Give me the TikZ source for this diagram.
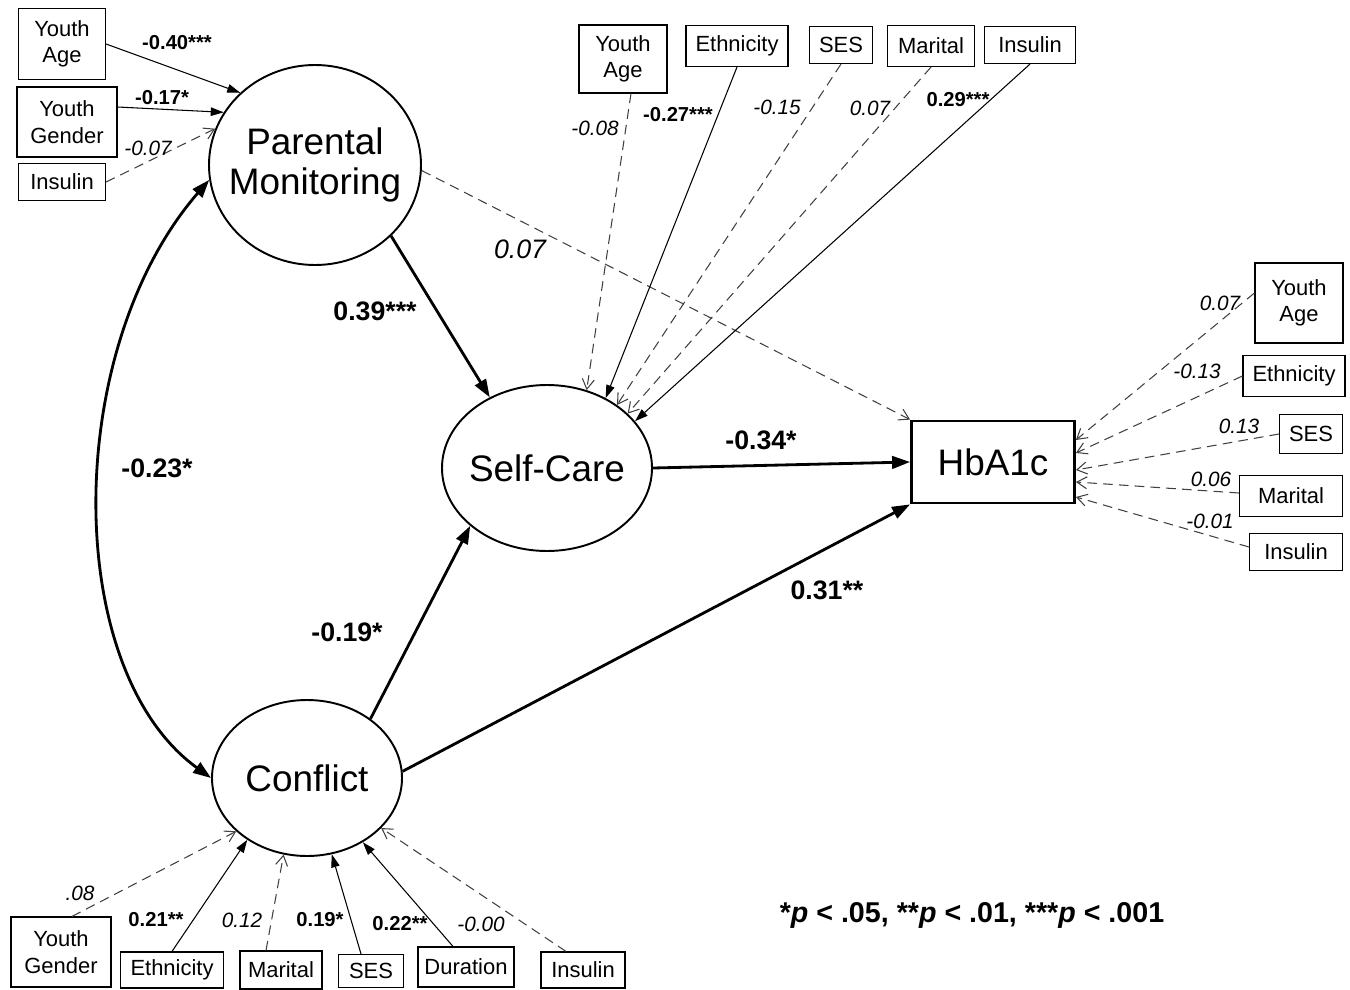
\documentclass[tikz,border=0pt]{standalone}
\usepackage{fontspec}
\setmainfont{Liberation Sans}
\usetikzlibrary{positioning,arrows.meta,shapes.geometric}

\begin{document}
\begin{tikzpicture}[x=0.02cm,y=-0.02cm,
    sz/.style 2 args={minimum width=#1*0.02cm,minimum height=#2*0.02cm},
    lat/.style={draw,ellipse,line width=1.1pt,inner xsep=-8pt,inner ysep=0pt,
      align=center,font=\fontsize{21}{23}\selectfont},
    obs/.style={draw,line width=1.6pt,inner sep=0,font=\fontsize{21}{23}\selectfont},
    cov/.style={draw,line width=0.65pt,inner sep=0,align=center,
      font=\fontsize{12.5}{15}\selectfont},
    pth/.style={line width=1.6pt,-{Triangle[length=0.36cm,width=0.25cm]}},
    sig/.style={line width=0.6pt,-{Triangle[length=0.26cm,width=0.17cm]}},
    ns/.style={line width=0.6pt,black!75,dash pattern=on 5.5pt off 3.5pt,
      -{Straight Barb[length=0.2cm,width=0.24cm]}},
    cb/.style={font=\bfseries\fontsize{11.5}{12}\selectfont},
    ci/.style={font=\itshape\fontsize{11.8}{12}\selectfont},
    cbig/.style={font=\bfseries\fontsize{15.2}{16}\selectfont}]
    \useasboundingbox (0,0) rectangle (1350,990);

    % latent variables and outcome
    \node[lat,sz={212}{200}] (pm) at (315,165) {Parental\\Monitoring};
    \node[lat,sz={210}{166}] (sc) at (547,468) {Self-Care};
    \node[lat,sz={190}{156}] (cf) at (307,778) {Conflict};
    \node[obs,sz={163}{82}] (hb) at (993,462) {HbA1c};

    % covariates of parental monitoring
    \node[cov,sz={87}{71}] (pya) at (62,44) {Youth\\Age};
    \node[cov,sz={100}{70}] (pyg) at (67,122) {Youth\\Gender};
    \node[cov,sz={87}{37}] (pin) at (62,182) {Insulin};

    % covariates of self-care
    \node[cov,sz={88}{68}] (sya) at (623,59) {Youth\\Age};
    \node[cov,sz={102}{41}] (set) at (737,46) {Ethnicity};
    \node[cov,sz={63}{37}] (sses) at (841,45) {SES};
    \node[cov,sz={87}{41}] (smar) at (931,46) {Marital};
    \node[cov,sz={91}{37}] (sin) at (1030,45) {Insulin};

    % covariates of HbA1c
    \node[cov,sz={88}{80}] (hya) at (1299,303) {Youth\\Age};
    \node[cov,sz={102}{41}] (het) at (1294,376) {Ethnicity};
    \node[cov,sz={63}{39}] (hses) at (1311,434) {SES};
    \node[cov,sz={103}{41}] (hmar) at (1291,496) {Marital};
    \node[cov,sz={93}{37}] (hin) at (1296,552) {Insulin};

    % covariates of conflict
    \node[cov,sz={100}{70}] (cyg) at (61,952) {Youth\\Gender};
    \node[cov,sz={103}{36}] (cet) at (172,970) {Ethnicity};
    \node[cov,sz={82}{38}] (cmar) at (281,970) {Marital};
    \node[cov,sz={65}{33}] (cses) at (371,971) {SES};
    \node[cov,sz={96}{40}] (cdur) at (466,967) {Duration};
    \node[cov,sz={84}{36}] (cin) at (583,970) {Insulin};

    % structural paths
    \draw[pth,{Triangle[length=0.36cm,width=0.25cm]}-{Triangle[length=0.36cm,width=0.25cm]}]
      (pm.188) .. controls (62,350) and (62,670) .. (cf.west);
    \draw[pth] (pm.-43) -- (sc.129);
    \draw[ns] (pm.-3) -- (hb.north west);
    \draw[pth] (sc.east) -- (hb.west);
    \draw[pth] (cf.43) -- (sc.217);
    \draw[pth] (cf.4) -- (hb.south west);

    \draw[sig] (pya.east) -- (pm.136);
    \draw[sig] ([yshift=0.3cm]pyg.east) -- (pm.150);
    \draw[ns] (pin.east) -- (pm.160);

    \draw[ns] ([xshift=0.16cm]sya.south) -- (sc.63);
    \draw[sig] (set.south) -- (sc.50);
    \draw[ns] (sses.south) -- (sc.42);
    \draw[ns] (smar.south) -- (sc.34);
    \draw[sig] (sin.south) -- (sc.28);

    \draw[ns] ([yshift=0.2cm]hya.west) -- ([yshift=0.44cm]hb.east);
    \draw[ns] (het.west) -- ([yshift=0.18cm]hb.east);
    \draw[ns] (hses.west) -- ([yshift=-0.16cm]hb.east);
    \draw[ns] ([yshift=0.06cm]hmar.west) -- ([yshift=-0.4cm]hb.east);
    \draw[ns] ([yshift=0.1cm]hin.west) -- ([yshift=-0.7cm]hb.east);

    \draw[ns] ([xshift=0.22cm]cyg.north) -- (cf.217);
    \draw[sig] (cet.north) -- (cf.226);
    \draw[ns] ([xshift=-0.3cm]cmar.north) -- (cf.253);
    \draw[sig] ([xshift=-0.2cm]cses.north) -- (cf.288);
    \draw[sig] ([xshift=-0.26cm]cdur.north) -- (cf.311);
    \draw[ns] ([xshift=-0.34cm]cin.north) -- (cf.326);

    % coefficients
    \node[cb] (lpa) at (177,43) {-0.40***};
    \node[cb] (lpg) at (162,98) {-0.17*};
    \node[ci] (lpi) at (148,148) {-0.07};
    \node[cbig] (lcov) at (157,468) {-0.23*};
    \node[cbig] (lpmsc) at (375,311) {0.39***};
    \node[font=\itshape\fontsize{15.2}{16}\selectfont] (lpmhb) at (520,249) {0.07};
    \node[cbig] (lschb) at (761,440) {-0.34*};
    \node[cbig] (lcfsc) at (347,632) {-0.19*};
    \node[cbig] (lcfhb) at (827,590) {0.31**};

    \node[ci] (lsa) at (595,128) {-0.08};
    \node[cb] (lse) at (678,115) {-0.27***};
    \node[ci] (lss) at (777,107) {-0.15};
    \node[ci] (lsm) at (870,108) {0.07};
    \node[cb] (lsi) at (958,100) {0.29***};

    \node[ci] (lha) at (1220,303) {0.07};
    \node[ci] (lhe) at (1197,371) {-0.13};
    \node[ci] (lhs) at (1239,426) {0.13};
    \node[ci] (lhm) at (1211,479) {0.06};
    \node[ci] (lhi) at (1210,521) {-0.01};

    \node[ci] (lcg) at (80,893) {.08};
    \node[cb] (lce) at (156,920) {0.21**};
    \node[ci] (lcm) at (242,920) {0.12};
    \node[cb] (lcs) at (320,920) {0.19*};
    \node[cb] (lcd) at (400,924) {0.22**};
    \node[ci] (lci) at (481,924) {-0.00};

    \node[font=\bfseries\fontsize{16.3}{17}\selectfont] (key) at (972,915)
      {*\textit{p} < .05, **\textit{p} < .01, ***\textit{p} < .001};
\end{tikzpicture}
\end{document}
